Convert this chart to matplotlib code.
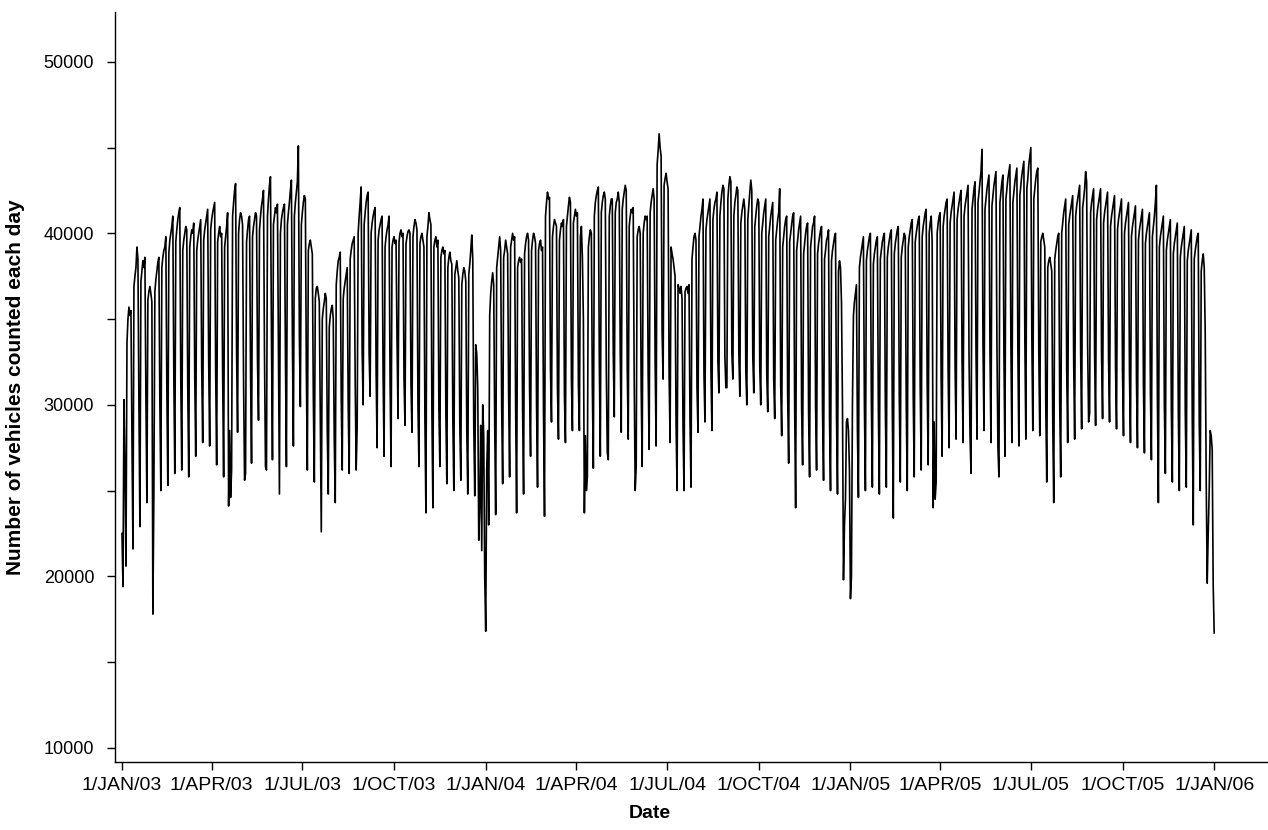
import numpy as np
import pandas as pd
import matplotlib
matplotlib.use("Agg")
import matplotlib.pyplot as plt
import matplotlib.dates as mdates

plt.rcParams['font.family'] = ['Liberation Sans', 'DejaVu Sans']

# daily vehicle counts, in hundreds, one row per week (Mon..Sun)
counts_2003 = [
    225, 194, 303, 262, 206,
    336, 350, 357, 352, 355, 280, 216,
    369, 375, 380, 392, 385, 300, 229,
    372, 378, 384, 380, 386, 305, 243,
    361, 366, 369, 365, 360, 178, 248,
    366, 373, 378, 383, 386, 302, 250,
    380, 386, 390, 392, 398, 310, 253,
    388, 396, 400, 404, 410, 318, 260,
    395, 402, 408, 412, 415, 315, 262,
    390, 396, 400, 404, 402, 310, 258,
    392, 398, 402, 400, 406, 318, 270,
    390, 396, 400, 404, 408, 322, 278,
    396, 402, 406, 410, 414, 325, 276,
    402, 408, 412, 415, 418, 320, 265,
    395, 400, 404, 398, 400, 318, 258,
    392, 398, 404, 412, 241, 285, 246,
    262, 410, 418, 425, 429, 330, 284,
    400, 408, 412, 410, 405, 315, 256,
    260, 395, 402, 408, 410, 320, 266,
    398, 404, 408, 412, 410, 325, 291,
    402, 410, 416, 420, 425, 330, 264,
    262, 410, 420, 428, 433, 340, 268,
    405, 410, 415, 412, 417, 328, 248,
    400, 408, 412, 415, 417, 330, 264,
    405, 412, 418, 425, 431, 338, 276,
    410, 418, 424, 430, 451, 340, 299,
    405, 412, 418, 422, 420, 320, 262,
    390, 394, 396, 392, 388, 305, 255,
    362, 368, 369, 365, 360, 290, 226,
    350, 356, 360, 365, 362, 285, 248,
    345, 352, 356, 358, 350, 280, 243,
    370, 378, 384, 386, 389, 305, 262,
    362, 368, 372, 376, 380, 300, 260,
    385, 390, 394, 396, 398, 315, 262,
    287, 400, 410, 418, 427, 332, 300,
    405, 412, 418, 422, 424, 330, 305,
    400, 406, 410, 413, 415, 320, 275,
    396, 402, 405, 408, 410, 318, 270,
    392, 398, 402, 405, 410, 315, 264,
    392, 396, 398, 394, 396, 338, 292,
    395, 400, 402, 398, 400, 315, 288,
    394, 398, 401, 402, 400, 312, 284,
    398, 404, 408, 406, 402, 300, 264,
    394, 398, 400, 396, 392, 290, 237,
    398, 404, 412, 408, 405, 295, 240,
    392, 396, 398, 392, 396, 298, 264,
    386, 390, 392, 388, 390, 296, 254,
    380, 386, 389, 384, 382, 292, 250,
    376, 380, 384, 378, 374, 288, 256,
    370, 376, 380, 378, 372, 285, 248,
    376, 382, 390, 399, 385, 288, 247,
    335, 330, 310, 221, 240, 288, 215,
    300, 282, 200,
]

counts_2004 = [
    168, 262, 285, 230,
    352, 365, 372, 377, 370, 290, 236,
    380, 386, 392, 398, 390, 300, 254,
    386, 390, 396, 392, 388, 305, 258,
    392, 396, 400, 396, 398, 300, 237,
    380, 384, 386, 383, 385, 298, 248,
    388, 394, 398, 400, 396, 310, 270,
    390, 396, 400, 398, 394, 300, 252,
    390, 394, 396, 390, 392, 295, 235,
    410, 418, 424, 420, 421, 320, 290,
    398, 404, 408, 406, 404, 310, 280,
    396, 402, 406, 404, 408, 305, 278,
    404, 410, 416, 421, 418, 315, 285,
    406, 410, 414, 410, 412, 312, 285,
    398, 404, 386, 350, 237, 282, 250,
    258, 392, 398, 402, 400, 310, 263,
    410, 418, 422, 425, 427, 325, 270,
    412, 418, 422, 424, 420, 320, 272,
    268, 410, 416, 420, 420, 330, 293,
    412, 418, 420, 424, 418, 330, 284,
    414, 420, 424, 428, 425, 322, 280,
    404, 410, 414, 412, 415, 315, 250,
    264, 398, 402, 404, 400, 310, 264,
    400, 406, 410, 408, 410, 318, 274,
    412, 418, 422, 426, 420, 325, 276,
    440, 448, 458, 450, 445, 342, 315,
    428, 432, 435, 430, 426, 319, 278,
    392, 388, 385, 380, 375, 290, 250,
    370, 368, 365, 369, 362, 286, 250,
    366, 368, 369, 365, 370, 290, 252,
    385, 392, 398, 400, 396, 310, 284,
    398, 404, 410, 414, 420, 318, 290,
    402, 408, 412, 416, 420, 320, 285,
    408, 414, 418, 420, 424, 325, 307,
    410, 418, 424, 428, 426, 328, 310,
    310, 420, 428, 433, 430, 330, 315,
    410, 418, 422, 427, 425, 330, 305,
    406, 412, 416, 420, 414, 320, 300,
    408, 416, 424, 431, 425, 328, 307,
    404, 410, 416, 420, 418, 322, 300,
    400, 406, 412, 416, 420, 318, 296,
    398, 404, 410, 414, 418, 315, 292,
    396, 402, 408, 412, 426, 312, 282,
    392, 398, 404, 408, 410, 305, 266,
    395, 400, 405, 410, 412, 300, 240,
    390, 396, 402, 406, 410, 298, 265,
    388, 394, 400, 404, 406, 295, 258,
    392, 398, 404, 406, 410, 300, 262,
    388, 394, 398, 402, 404, 296, 256,
    385, 390, 396, 398, 402, 292, 250,
    384, 390, 394, 398, 400, 294, 248,
    378, 384, 380, 360, 300, 198, 230,
    245, 290, 292, 285, 262,
]

counts_2005 = [
    187, 200,
    300, 352, 360, 365, 370, 285, 246,
    380, 386, 390, 394, 398, 300, 250,
    384, 390, 394, 398, 400, 302, 252,
    382, 388, 392, 396, 398, 298, 248,
    385, 390, 395, 398, 400, 300, 252,
    386, 392, 396, 400, 402, 298, 234,
    388, 394, 398, 402, 404, 305, 255,
    386, 392, 396, 400, 398, 300, 250,
    392, 398, 402, 406, 408, 305, 258,
    395, 400, 404, 408, 410, 310, 262,
    398, 404, 408, 412, 414, 312, 265,
    400, 406, 410, 395, 240, 290, 245,
    255, 400, 406, 410, 412, 315, 270,
    404, 410, 414, 418, 420, 320, 275,
    406, 412, 416, 420, 424, 322, 280,
    408, 414, 418, 422, 425, 325, 278,
    410, 416, 420, 424, 428, 328, 282,
    260, 414, 420, 426, 430, 330, 280,
    418, 424, 430, 436, 449, 335, 285,
    414, 420, 426, 430, 434, 332, 278,
    416, 422, 428, 432, 436, 334, 275,
    258, 418, 424, 430, 434, 330, 270,
    420, 426, 432, 436, 440, 335, 278,
    418, 424, 430, 434, 438, 332, 276,
    422, 428, 434, 438, 442, 338, 280,
    426, 432, 440, 445, 450, 340, 285,
    420, 426, 432, 436, 438, 330, 282,
    395, 398, 400, 396, 392, 300, 255,
    380, 384, 386, 382, 378, 290, 243,
    385, 390, 394, 398, 400, 300, 258,
    400, 406, 412, 416, 420, 320, 278,
    405, 410, 414, 418, 422, 325, 280,
    410, 416, 420, 424, 428, 330, 286,
    415, 420, 426, 436, 430, 335, 290,
    295, 412, 418, 422, 426, 330, 288,
    408, 414, 418, 422, 426, 328, 292,
    406, 412, 416, 420, 424, 326, 290,
    404, 410, 414, 418, 422, 322, 286,
    402, 408, 412, 416, 420, 320, 282,
    400, 406, 410, 414, 418, 318, 278,
    398, 404, 408, 412, 416, 315, 275,
    396, 402, 406, 410, 414, 312, 272,
    394, 400, 404, 408, 412, 308, 268,
    398, 404, 410, 418, 428, 305, 243,
    392, 398, 402, 406, 410, 300, 260,
    390, 396, 400, 404, 408, 298, 255,
    388, 394, 398, 402, 406, 296, 250,
    386, 392, 396, 400, 404, 295, 252,
    384, 390, 394, 398, 402, 292, 230,
    385, 390, 394, 398, 400, 290, 250,
    378, 384, 388, 380, 342, 255, 196,
    225, 250, 285, 282, 274, 195,
]

counts_2006 = [167]

counts = np.array(counts_2003 + counts_2004 + counts_2005 + counts_2006) * 100
dates = pd.date_range("2003-01-01", periods=len(counts), freq="D")

months = ["JAN", "FEB", "MAR", "APR", "MAY", "JUN",
          "JUL", "AUG", "SEP", "OCT", "NOV", "DEC"]

def date_label(x, pos=None):
    d = mdates.num2date(x)
    return "%d/%s/%02d" % (d.day, months[d.month - 1], d.year % 100)

fig = plt.figure(figsize=(12.68, 8.30), dpi=100)
ax = fig.add_axes([0.0907, 0.082, 0.9093, 0.9035])

ax.plot(dates, counts, color="black", lw=1.2)

ax.set_xlim(pd.Timestamp("2002-12-25"), pd.Timestamp("2006-02-24"))
ax.set_ylim(9180, 52900)

ax.xaxis.set_major_locator(mdates.MonthLocator(bymonth=[1, 4, 7, 10]))
ax.xaxis.set_major_formatter(plt.FuncFormatter(date_label))
ax.set_yticks([10000, 20000, 30000, 40000, 50000])
ax.set_yticks([15000, 25000, 35000, 45000], minor=True)

for s in ["top", "right"]:
    ax.spines[s].set_visible(False)
for s in ["left", "bottom"]:
    ax.spines[s].set_linewidth(1.0)

ax.tick_params(axis="both", which="both", direction="out", length=6, width=1.0)
ax.tick_params(axis="y", pad=9, labelsize=13)
ax.tick_params(axis="x", pad=5, labelsize=14)

ax.set_xlabel("Date", fontsize=14, fontweight="bold")
ax.xaxis.set_label_coords(0.464, -0.058)
ax.set_ylabel("Number of vehicles counted each day", fontsize=15, fontweight="bold")
ax.yaxis.set_label_coords(-0.078, 0.5)

fig.savefig("out.png", dpi=100)
